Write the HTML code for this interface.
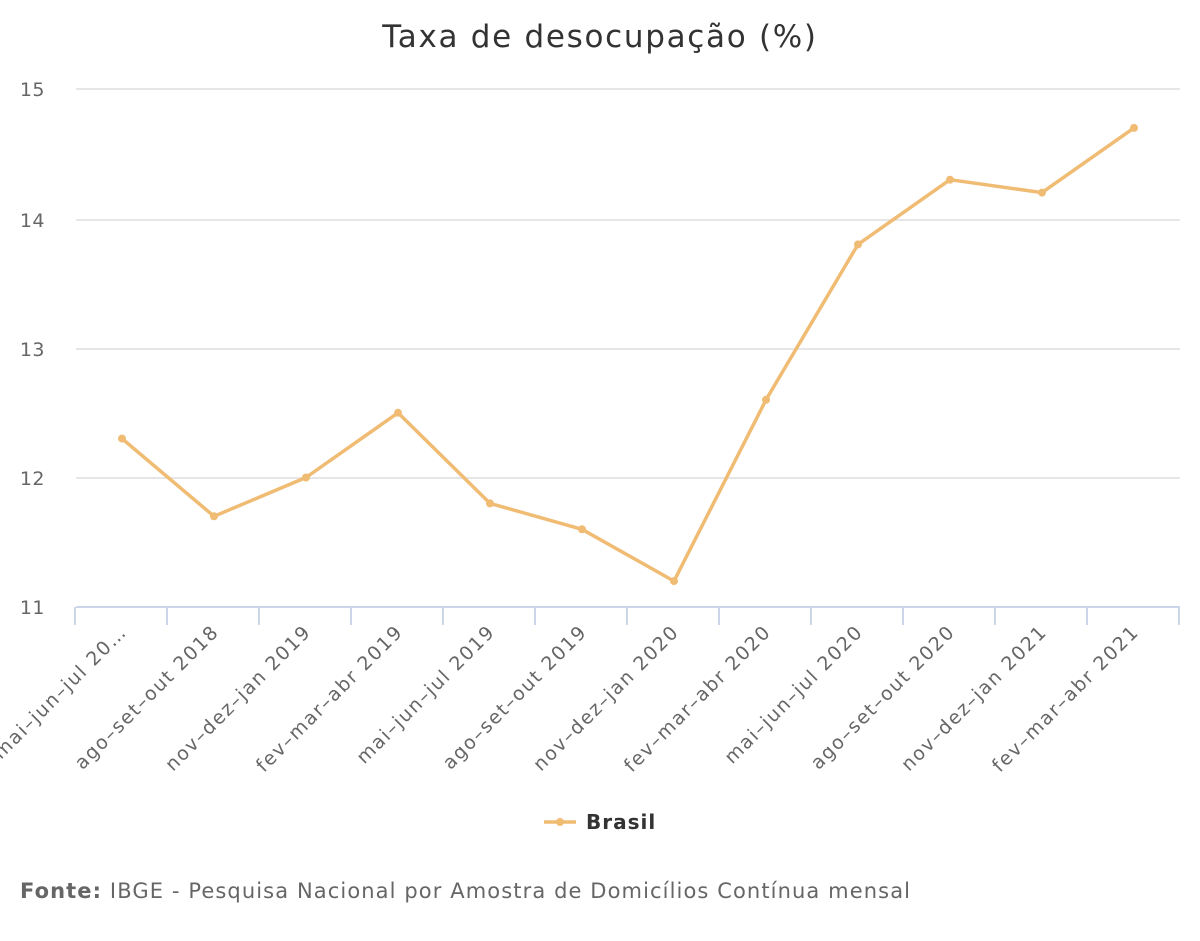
<!DOCTYPE html>
<html><head><meta charset="utf-8"><style>
html,body{margin:0;padding:0;background:#fff;}
svg{display:block;font-family:"DejaVu Sans","Liberation Sans",sans-serif;}
</style></head><body>
<svg width="1200" height="941" viewBox="0 0 1200 941" xmlns="http://www.w3.org/2000/svg">
<text x="600" y="47" text-anchor="middle" font-size="31" letter-spacing="1.7" fill="#333">Taxa de desocupação (%)</text>
<g stroke="#e6e6e6" stroke-width="2">
<line x1="76" y1="89" x2="1180" y2="89"/>
<line x1="76" y1="220" x2="1180" y2="220"/>
<line x1="76" y1="349" x2="1180" y2="349"/>
<line x1="76" y1="478" x2="1180" y2="478"/>
</g>
<g stroke="#ccd6eb" stroke-width="2">
<line x1="76" y1="607" x2="1180" y2="607"/>
<line x1="75" y1="607" x2="75" y2="625"/><line x1="167" y1="607" x2="167" y2="625"/><line x1="259" y1="607" x2="259" y2="625"/><line x1="351" y1="607" x2="351" y2="625"/><line x1="443" y1="607" x2="443" y2="625"/><line x1="535" y1="607" x2="535" y2="625"/><line x1="627" y1="607" x2="627" y2="625"/><line x1="719" y1="607" x2="719" y2="625"/><line x1="811" y1="607" x2="811" y2="625"/><line x1="903" y1="607" x2="903" y2="625"/><line x1="995" y1="607" x2="995" y2="625"/><line x1="1087" y1="607" x2="1087" y2="625"/><line x1="1179" y1="607" x2="1179" y2="625"/>
</g>
<g font-size="19" fill="#666" text-anchor="end" letter-spacing="0.5">
<text x="45" y="96">15</text><text x="45" y="227">14</text><text x="45" y="356">13</text><text x="45" y="485">12</text><text x="45" y="614">11</text>
</g>
<g font-size="19" fill="#666" text-anchor="end" letter-spacing="1.6">
<text transform="translate(128,633) rotate(-45)">mai–jun–jul 20…</text>
<text transform="translate(220,633) rotate(-45)">ago–set–out 2018</text>
<text transform="translate(312,633) rotate(-45)">nov–dez–jan 2019</text>
<text transform="translate(404,633) rotate(-45)">fev–mar–abr 2019</text>
<text transform="translate(496,633) rotate(-45)">mai–jun–jul 2019</text>
<text transform="translate(588,633) rotate(-45)">ago–set–out 2019</text>
<text transform="translate(680,633) rotate(-45)">nov–dez–jan 2020</text>
<text transform="translate(772,633) rotate(-45)">fev–mar–abr 2020</text>
<text transform="translate(864,633) rotate(-45)">mai–jun–jul 2020</text>
<text transform="translate(956,633) rotate(-45)">ago–set–out 2020</text>
<text transform="translate(1048,633) rotate(-45)">nov–dez–jan 2021</text>
<text transform="translate(1140,633) rotate(-45)">fev–mar–abr 2021</text>
</g>
<polyline fill="none" stroke="#f0bc74" stroke-width="3.5" stroke-linejoin="round" points="122,438.6 214,516.3 306,477.5 398,412.8 490,503.4 582,529.3 674,581.1 766,399.8 858,244.4 950,179.7 1042,192.6 1134,127.9"/>
<g fill="#f0bc74">
<circle cx="122" cy="438.6" r="4"/><circle cx="214" cy="516.3" r="4"/><circle cx="306" cy="477.5" r="4"/><circle cx="398" cy="412.8" r="4"/><circle cx="490" cy="503.4" r="4"/><circle cx="582" cy="529.3" r="4"/><circle cx="674" cy="581.1" r="4"/><circle cx="766" cy="399.8" r="4"/><circle cx="858" cy="244.4" r="4"/><circle cx="950" cy="179.7" r="4"/><circle cx="1042" cy="192.6" r="4"/><circle cx="1134" cy="127.9" r="4"/>
</g>
<line x1="544" y1="822" x2="576" y2="822" stroke="#f0bc74" stroke-width="3.5"/>
<circle cx="560" cy="822" r="4" fill="#f0bc74"/>
<text x="586" y="829" font-size="20" font-weight="bold" letter-spacing="1" fill="#333">Brasil</text>
<text x="20" y="898" font-size="21" letter-spacing="1.1" fill="#666"><tspan font-weight="bold">Fonte:</tspan> IBGE - Pesquisa Nacional por Amostra de Domicílios Contínua mensal</text>
</svg>
</body></html>
